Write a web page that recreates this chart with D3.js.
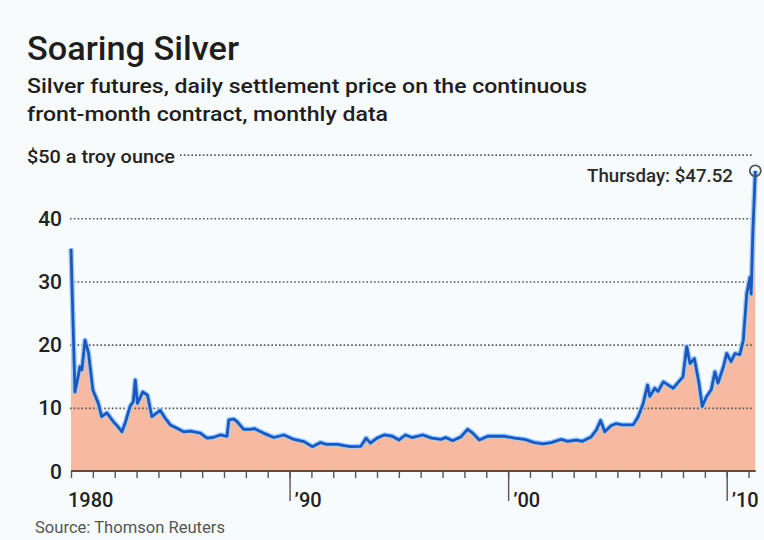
<!DOCTYPE html>
<html>
<head>
<meta charset="utf-8">
<script src="https://cdn.jsdelivr.net/npm/d3@7"></script>
<style>
  html, body { margin: 0; padding: 0; background: #ffffff; }
  svg { display: block; }
  text { font-family: Roboto, "DejaVu Sans", sans-serif; }
</style>
</head>
<body>
<div id="chart"></div>
<script>
// monthly settlement price (decimal year, $ per troy ounce)
const years = [
  1980.0, 1980.18, 1980.3, 1980.41, 1980.5, 1980.64, 1980.8, 1981.0, 1981.25, 1981.4,
  1981.64, 1981.94, 1982.15, 1982.33, 1982.5, 1982.7, 1982.85, 1982.94, 1983.04, 1983.15,
  1983.28, 1983.5, 1983.7, 1983.93, 1984.08, 1984.3, 1984.54, 1984.85, 1985.15, 1985.46,
  1985.92, 1986.22, 1986.5, 1986.83, 1987.14, 1987.22, 1987.45, 1987.6, 1987.9, 1988.2,
  1988.4, 1988.8, 1989.28, 1989.74, 1990.2, 1990.66, 1991.04, 1991.42, 1991.7, 1992.2,
  1992.5, 1992.8, 1993.26, 1993.5, 1993.7, 1994.0, 1994.33, 1994.7, 1995.0, 1995.3,
  1995.6, 1996.1, 1996.5, 1996.93, 1997.15, 1997.46, 1997.84, 1998.15, 1998.38, 1998.68,
  1999.07, 1999.45, 1999.83, 2000.29, 2000.75, 2001.2, 2001.6, 2001.97, 2002.43, 2002.72,
  2003.12, 2003.4, 2003.8, 2004.04, 2004.23, 2004.42, 2004.72, 2004.95, 2005.2, 2005.4,
  2005.72, 2005.95, 2006.18, 2006.38, 2006.48, 2006.71, 2006.86, 2007.1, 2007.33, 2007.55,
  2007.8, 2008.0, 2008.17, 2008.32, 2008.52, 2008.73, 2008.88, 2009.08, 2009.3, 2009.46,
  2009.6, 2009.85, 2010.0, 2010.2, 2010.38, 2010.6, 2010.76, 2010.92, 2011.07, 2011.12,
  2011.2, 2011.31
];
const prices = [
  35.2, 12.5, 14.5, 16.5, 16.0, 20.7, 18.7, 12.8, 10.7, 8.6,
  9.2, 7.8, 7.0, 6.2, 7.8, 10.2, 11.0, 14.4, 10.7, 11.5,
  12.5, 12.0, 8.6, 9.2, 9.6, 8.4, 7.3, 6.75, 6.2, 6.3,
  6.0, 5.2, 5.3, 5.7, 5.5, 8.1, 8.2, 7.8, 6.6, 6.6,
  6.7, 6.0, 5.3, 5.7, 5.0, 4.65, 3.85, 4.5, 4.2, 4.2,
  4.0, 3.85, 3.9, 5.2, 4.4, 5.2, 5.7, 5.5, 4.9, 5.7,
  5.3, 5.7, 5.2, 5.0, 5.3, 4.8, 5.4, 6.6, 6.0, 4.9,
  5.5, 5.5, 5.5, 5.2, 5.0, 4.5, 4.3, 4.5, 5.0, 4.7,
  4.9, 4.7, 5.4, 6.5, 8.0, 6.2, 7.2, 7.5, 7.3, 7.3,
  7.3, 8.6, 10.7, 13.6, 11.8, 13.1, 12.6, 14.1, 13.6, 13.1,
  14.1, 14.9, 19.7, 17.0, 17.8, 13.9, 10.2, 11.8, 12.9, 15.7,
  13.9, 16.5, 18.6, 17.3, 18.6, 18.4, 20.7, 28.1, 30.7, 28.0,
  38.1, 47.52
];
const yTicks = [0, 10, 20, 30, 40];
const topTick = 50;
const minorTicks = d3.range(1980, 2012);
const majorTicks = [1990, 2000, 2010];
const tickLabels = ['1980', '\u201990', '\u201900', '\u201910'];
const labelYears = [1980, 1990, 2000, 2010];
const lastLabel = 'Thursday: $47.52';

const W = 764, H = 540;
const margin = { left: 71, right: 9, top: 155, bottom: 69 };

const svg = d3.select('#chart').append('svg').attr('width', W).attr('height', H);
svg.append('rect').attr('width', W).attr('height', H).attr('fill', '#f8fbfc');

const x = d3.scaleLinear().domain([1980, 2010]).range([71, 726.7]);
const y = d3.scaleLinear().domain([0, 40]).range([471, 218.3]);

const data = years.map((yr, i) => ({ yr, v: prices[i] }));

// titles
svg.append('text').attr('x', 27).attr('y', 60)
  .attr('font-size', 34).attr('font-weight', 500).attr('fill', '#1e1e1e')
  .attr('textLength', 212).attr('lengthAdjust', 'spacingAndGlyphs')
  .text('Soaring Silver');
svg.append('text').attr('x', 27).attr('y', 93)
  .attr('font-size', 21).attr('font-weight', 500).attr('fill', '#1e1e1e')
  .attr('textLength', 560).attr('lengthAdjust', 'spacingAndGlyphs')
  .text('Silver futures, daily settlement price on the continuous');
svg.append('text').attr('x', 27).attr('y', 121)
  .attr('font-size', 21).attr('font-weight', 500).attr('fill', '#1e1e1e')
  .attr('textLength', 361).attr('lengthAdjust', 'spacingAndGlyphs')
  .text('front-month contract, monthly data');

// area + line
const area = d3.area().x(d => x(d.yr)).y0(y(0)).y1(d => y(d.v));
const line = d3.line().x(d => x(d.yr)).y(d => y(d.v));

svg.append('path').datum(data).attr('d', area).attr('fill', '#f8b9a1');

// grid lines
const grid = svg.append('g').attr('transform', 'translate(70,0)')
  .call(d3.axisLeft(y).tickValues(yTicks.filter(t => t > 0)).tickSize(-682).tickFormat(''));
grid.select('.domain').remove();
grid.selectAll('.tick line').attr('stroke', '#555').attr('stroke-width', 1.6)
  .attr('stroke-dasharray', '1.6,2.2');

svg.append('line').attr('x1', 180).attr('x2', 752)
  .attr('y1', y(topTick)).attr('y2', y(topTick))
  .attr('stroke', '#555').attr('stroke-width', 1.6).attr('stroke-dasharray', '1.6,2.2');

svg.append('path').datum(data).attr('d', line).attr('fill', 'none')
  .attr('stroke', '#a9cdf2').attr('stroke-width', 5.5).attr('stroke-linejoin', 'round');
svg.append('path').datum(data).attr('d', line).attr('fill', 'none')
  .attr('stroke', '#1a58bd').attr('stroke-width', 2.8).attr('stroke-linejoin', 'round');

// y labels
svg.selectAll('.ylab').data(yTicks).join('text').attr('class', 'ylab')
  .attr('x', 62).attr('y', d => y(d) + 7.5).attr('text-anchor', 'end')
  .attr('font-size', 21).attr('font-weight', 500).attr('fill', '#222')
  .text(d => d);
svg.append('text').attr('x', 27).attr('y', y(topTick) + 7.5)
  .attr('font-size', 19).attr('font-weight', 500).attr('fill', '#222')
  .attr('textLength', 148).attr('lengthAdjust', 'spacingAndGlyphs')
  .text('$50 a troy ounce');

// x axis
const xAxisMinor = svg.append('g').attr('transform', `translate(0,${y(0)})`)
  .call(d3.axisBottom(x).tickValues(minorTicks).tickSize(7).tickSizeOuter(0).tickFormat(''));
xAxisMinor.select('.domain').attr('stroke', '#6a4a3c').attr('stroke-width', 2.2)
  .attr('d', `M${x(1980)},0H${x(2011.33)}`);
xAxisMinor.selectAll('.tick line').attr('stroke', '#555').attr('stroke-width', 1.4);

const xAxisMajor = svg.append('g').attr('transform', `translate(0,${y(0)})`)
  .call(d3.axisBottom(x).tickValues(majorTicks).tickSize(30).tickFormat(''));
xAxisMajor.select('.domain').remove();
xAxisMajor.selectAll('.tick line').attr('stroke', '#555').attr('stroke-width', 1.4);

svg.selectAll('.xlab').data(labelYears).join('text').attr('class', 'xlab')
  .attr('x', (d, i) => i === 0 ? x(d) - 3 : x(d) + 5)
  .attr('y', y(0) + 36)
  .attr('font-size', 20).attr('font-weight', 500).attr('fill', '#222')
  .text((d, i) => tickLabels[i]);

// last point marker
const last = data[data.length - 1];
svg.append('circle').attr('cx', x(last.yr)).attr('cy', y(last.v)).attr('r', 5.5)
  .attr('fill', 'none').attr('stroke', '#4a5560').attr('stroke-width', 1.8);
svg.append('text').attr('x', 733).attr('y', y(last.v) + 11)
  .attr('text-anchor', 'end')
  .attr('font-size', 19).attr('font-weight', 500).attr('fill', '#2a2a2a')
  .attr('textLength', 146).attr('lengthAdjust', 'spacingAndGlyphs')
  .text(lastLabel);

// source
svg.append('text').attr('x', 35).attr('y', 533)
  .attr('font-size', 16).attr('fill', '#555')
  .attr('textLength', 190).attr('lengthAdjust', 'spacingAndGlyphs')
  .text('Source: Thomson Reuters');
</script>
</body>
</html>
